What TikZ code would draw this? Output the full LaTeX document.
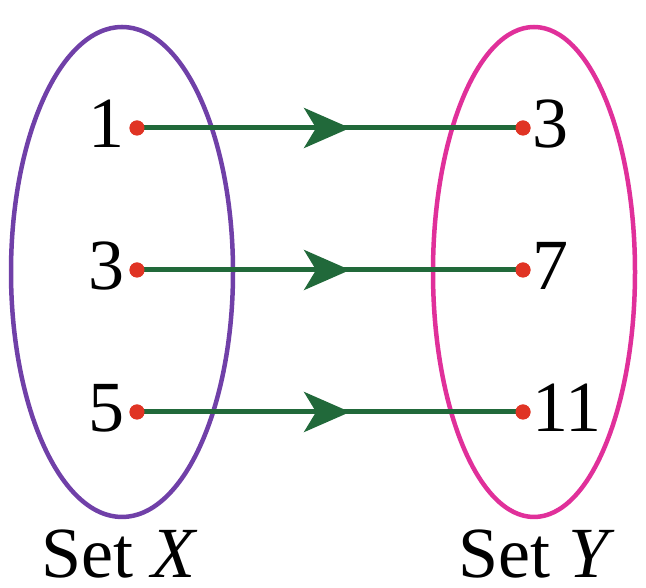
\documentclass[tikz,border=0pt]{standalone}
\usepackage{fontspec}
\setmainfont{Liberation Serif}
\usetikzlibrary{arrows.meta,calc}
\definecolor{setpurple}{HTML}{7040A8}
\definecolor{setmagenta}{HTML}{E0309A}
\definecolor{arrowgreen}{HTML}{21693A}
\definecolor{dotred}{HTML}{E03424}
\begin{document}
\begin{tikzpicture}[x=1pt,y=1pt,
  dotnode/.style={circle,fill=dotred,inner sep=0pt,minimum size=15pt},
  lbl/.style={font=\fontsize{72}{72}\selectfont,inner sep=0pt},
  conn/.style={draw=arrowgreen,line width=5pt},
  headarrow/.style={draw=arrowgreen,line width=5pt,-{Stealth[length=46pt,width=40pt,inset=12pt]}},
  setring/.style={line width=4.5pt}]
\useasboundingbox (0,0) rectangle (646,588);
\draw[setring,draw=setpurple] (122,316) ellipse [x radius=111, y radius=245];
\draw[setring,draw=setmagenta] (534,316) ellipse [x radius=101, y radius=245];
% dots
\node[dotnode] (a1) at (137,460) {};
\node[dotnode] (a2) at (137,318) {};
\node[dotnode] (a3) at (137,176) {};
\node[dotnode] (b1) at (523,460) {};
\node[dotnode] (b2) at (523,318) {};
\node[dotnode] (b3) at (523,176) {};
% labels
\node[lbl,anchor=base east] (la1) at (125,440) {1};
\node[lbl,anchor=base east] (la2) at (125,298) {3};
\node[lbl,anchor=base east] (la3) at (125,156) {5};
\node[lbl,anchor=base west] (lb1) at (532,440) {3};
\node[lbl,anchor=base west] (lb2) at (532,298) {7};
\node[lbl,anchor=base west] (lb3) at (532,156) {11};
\node[lbl,anchor=base] (sx) at (120,10) {Set \textit{X}};
\node[lbl,anchor=base] (sy) at (537,10) {Set \textit{Y}};
% connectors
\foreach \i in {1,2,3}{
  \draw[conn] (a\i.center) -- (b\i.center);
  \draw[headarrow] (a\i.center) -- ($(a\i.center)!0.552!(b\i.center)$);
  \node[dotnode] at (a\i) {};
  \node[dotnode] at (b\i) {};
}
\end{tikzpicture}
\end{document}
